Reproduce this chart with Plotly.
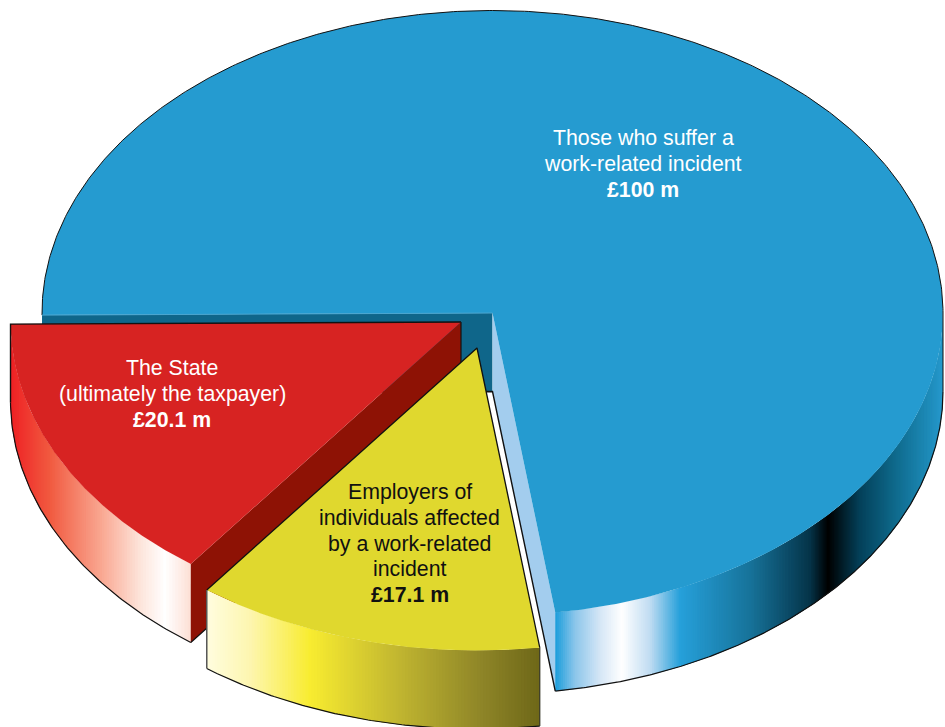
import numpy as np
import plotly.graph_objects as go

# Cost shares, in £ million
values = [100, 20.1, 17.1]
captions = [
    ["Those who suffer a", "work-related incident"],
    ["The State", "(ultimately the taxpayer)"],
    ["Employers of", "individuals affected", "by a work-related", "incident"],
]
caption_colors = ["#ffffff", "#ffffff", "#111111"]
caption_pos = [(643, 164), (172, 394), (409.5, 543.5)]
LINE_GAP = 25.7

top_colors = ["#259bd0", "#d72322", "#e0d82e"]

# Pie geometry on a pixel-sized plotting plane
RX, RY, DEPTH = 450.5, 302.5, 78.5
START_ANGLE = 269.6
centers = [(492.5, 313), (461, 322), (477, 348)]

# Horizontal shading of the rim: (x, colour)
blue_rim = [(556, "#1f9fdc"), (575, "#8cc6ea"), (600, "#d5e6f6"), (622, "#ffffff"),
            (650, "#c0dcf2"), (680, "#26a0da"), (750, "#17739a"), (810, "#053449"),
            (828, "#000000"), (860, "#04415a"), (895, "#0f6a8c"), (943, "#2599cc")]
red_rim = [(10, "#ee2024"), (50, "#f15a40"), (100, "#f9a58f"), (140, "#fde4da"),
           (165, "#ffffff"), (190, "#fde0d6")]
yellow_rim = [(206, "#fffde0"), (250, "#fdf6b0"), (310, "#f8ec30"), (400, "#c0b530"),
              (480, "#8f8628"), (540, "#6e6718")]


def hex_rgb(c):
    return np.array([int(c[i:i + 2], 16) for i in (1, 3, 5)], float)


def shade(stops, x):
    xs = [s[0] for s in stops]
    cols = np.array([hex_rgb(s[1]) for s in stops])
    r, g, b = (np.interp(x, xs, cols[:, k]) for k in range(3))
    return f"rgb({r:.0f},{g:.0f},{b:.0f})"


def rim_point(center, theta):
    t = np.radians(theta)
    return center[0] + RX * np.sin(t), center[1] - RY * np.cos(t)


fig = go.Figure()


def poly(xs, ys, fill):
    fig.add_trace(go.Scatter(x=xs, y=ys, mode="lines", fill="toself", fillcolor=fill,
                             line=dict(color=fill, width=0), hoverinfo="skip"))


def stroke(xs, ys, color="#111111", width=1.2):
    fig.add_trace(go.Scatter(x=xs, y=ys, mode="lines", line=dict(color=color, width=width),
                             hoverinfo="skip"))


def draw_rim(center, a0, a1, stops, step):
    """Shaded outer wall between two angles, plus its lower outline.

    Each strip runs on under the next one so no seams show between them.
    """
    angles = np.arange(a0, a1 + step, step)
    angles[-1] = a1
    for p, q in zip(angles[:-1], angles[1:]):
        far = np.linspace(p, min(q + 2 * step, a1), 4)
        xs, ys = rim_point(center, far)
        mid_x = rim_point(center, (p + q) / 2)[0]
        poly(np.concatenate([xs, xs[::-1]]), np.concatenate([ys, ys[::-1] + DEPTH]),
             shade(stops, mid_x))
    xs, ys = rim_point(center, angles)
    stroke(xs, ys + DEPTH)


def wedge(center, a0, a1, fill):
    angles = np.linspace(a0, a1, 400)
    xs, ys = rim_point(center, angles)
    poly(np.concatenate([[center[0]], xs, [center[0]]]),
         np.concatenate([[center[1]], ys, [center[1]]]), fill)


# Convert values to sweep angles, clockwise from the start angle
total = sum(values)
sweeps = [v / total * 360 for v in values]
blue_a0, blue_a1 = START_ANGLE, START_ANGLE + sweeps[0]
yellow_a0, yellow_a1 = blue_a1 - 360, blue_a1 - 360 + sweeps[2]
red_a0, red_a1 = yellow_a1, yellow_a1 + sweeps[1]

# --- Largest slice ---
c = centers[0]
# The rim is drawn from the lit end towards the far right, so the strips overlap the same way
draw_rim(c, 90, blue_a1 - 360, blue_rim, 0.25)
sx, sy = rim_point(c, blue_a0)
ex, ey = rim_point(c, blue_a1)
poly([sx, c[0], c[0], sx, sx], [sy, c[1], c[1] + DEPTH, sy + DEPTH, sy], "#0f668a")
poly([c[0], ex, ex, c[0], c[0]], [c[1], ey, ey + DEPTH, c[1] + DEPTH, c[1]], "#a3cdee")
stroke([sx, c[0], ex], [sy + DEPTH, c[1] + DEPTH, ey + DEPTH], width=1.4)
wedge(c, blue_a0, blue_a1, top_colors[0])
ox, oy = rim_point(c, np.linspace(blue_a0, 360 + 90, 400))
stroke(ox, oy, width=1)
stroke([rim_point(c, 90)[0]] * 2, [c[1], c[1] + DEPTH], width=1)
stroke([sx, c[0]], [sy, c[1]], color="#4aa6d0", width=1)

# --- State slice ---
c = centers[1]
draw_rim(c, red_a0, red_a1, red_rim, 0.5)
bx, by = rim_point(c, red_a0)
lx, ly = rim_point(c, red_a1)
poly([c[0], bx, bx, c[0], c[0]], [c[1], by, by + DEPTH, c[1] + DEPTH, c[1]], "#8e1205")
stroke([bx, c[0], c[0]], [by + DEPTH, c[1] + DEPTH, c[1]])
wedge(c, red_a0, red_a1, top_colors[1])
stroke([lx, lx, c[0]], [ly + DEPTH, ly, c[1]], width=1.4)

# --- Employers slice ---
c = centers[2]
draw_rim(c, yellow_a0, yellow_a1, yellow_rim, 0.4)
rx_, ry_ = rim_point(c, yellow_a0)
lx, ly = rim_point(c, yellow_a1)
wedge(c, yellow_a0, yellow_a1, top_colors[2])
stroke([lx, c[0], rx_], [ly, c[1], ry_], width=1.3)
stroke([lx, lx], [ly, ly + DEPTH], color="#555555", width=1.5)
stroke([rx_, rx_], [ry_, ry_ + DEPTH], color="#333322", width=1.2)

# Captions, one annotation per line; the amount comes from the same values as the slices
for cap, val, col, (x, y) in zip(captions, values, caption_colors, caption_pos):
    lines = cap + [f"<b>£{val:g} m</b>"]
    first = y - LINE_GAP * (len(lines) - 1) / 2
    for i, text in enumerate(lines):
        fig.add_annotation(x=x, y=first + i * LINE_GAP, text=text, showarrow=False,
                           font=dict(family="Liberation Sans", size=21.3, color=col),
                           xanchor="center", yanchor="middle")

fig.update_layout(
    width=945, height=727, margin=dict(l=0, r=0, t=0, b=0),
    paper_bgcolor="white", plot_bgcolor="white", showlegend=False, hovermode=False,
    xaxis=dict(range=[0, 945], visible=False, fixedrange=True),
    yaxis=dict(range=[727, 0], visible=False, fixedrange=True),
)
fig.write_html("out.html", config=dict(displayModeBar=False))
